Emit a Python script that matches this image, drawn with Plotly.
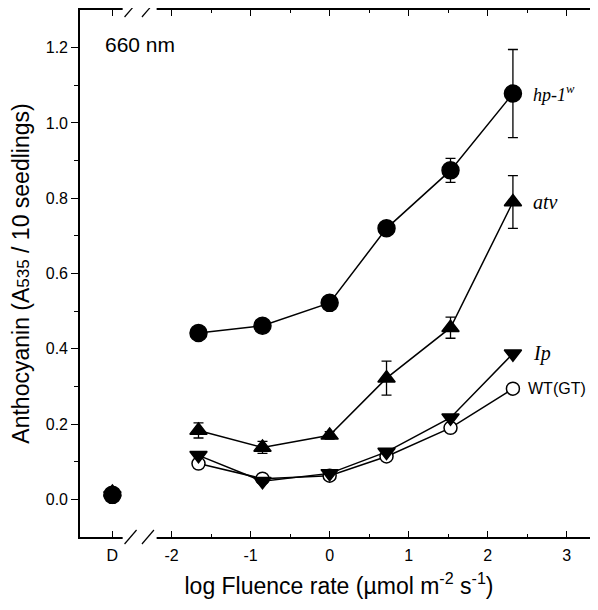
import plotly.graph_objects as go

# ---- data ----
x_log = [-1.66, -0.85, 0.0, 0.72, 1.53, 2.32]
x_dark = -2.75  # position of the "D" (dark) category on the axis

hp_vals = [0.442, 0.461, 0.522, 0.720, 0.874, 1.078]
hp_err = [0.008, 0.008, 0.008, 0.016, 0.032, 0.117]
atv_vals = [0.183, 0.138, 0.170, 0.322, 0.456, 0.790]
atv_err = [0.020, 0.016, 0.010, 0.045, 0.028, 0.070]
ip_vals = [0.117, 0.048, 0.069, 0.126, 0.217, 0.387]
wt_vals = [0.095, 0.055, 0.063, 0.114, 0.190, 0.294]
dark_vals = {"hp": 0.012, "atv": 0.018, "ip": 0.010, "wt": 0.008}

x_tickvals = [x_dark, -2, -1, 0, 1, 2, 3]
x_ticktext = ["D", "-2", "-1", "0", "1", "2", "3"]
x_minor = [-1.5, -0.5, 0.5, 1.5, 2.5]
y_tickvals = [0.0, 0.2, 0.4, 0.6, 0.8, 1.0, 1.2]
y_minor = [0.1, 0.3, 0.5, 0.7, 0.9, 1.1]

LINE = dict(color="black", width=1.5)
fig = go.Figure()

def add_series(name, xs, ys, symbol, size, err=None, fill="black", dkey=None):
    mk = dict(symbol=symbol, size=size, color=fill, line=dict(color="black", width=1.5))
    tr = dict(x=xs, y=ys, mode="lines+markers", line=LINE, marker=mk, name=name, showlegend=False)
    if err is not None:
        tr["error_y"] = dict(type="data", array=err, visible=True, color="black", thickness=1.3, width=5)
    fig.add_trace(go.Scatter(**tr))
    fig.add_trace(go.Scatter(x=[x_dark], y=[dark_vals[dkey]], mode="markers", marker=mk,
                             showlegend=False))

add_series("WT(GT)", x_log, wt_vals, "circle", 13, fill="white", dkey="wt")
add_series("Ip", x_log, ip_vals, "triangle-down", 15, dkey="ip")
add_series("atv", x_log, atv_vals, "triangle-up", 15, err=atv_err, dkey="atv")
add_series("hp-1w", x_log, hp_vals, "circle", 17, err=hp_err, dkey="hp")

# series labels at the last point
labels = [
    ("<i>hp-1<sup>w</sup></i>", hp_vals[-1], "Liberation Serif", 18, 18),
    ("<i>atv</i>", atv_vals[-1], "Liberation Serif", 20, 18),
    ("<i>Ip</i>", ip_vals[-1], "Liberation Serif", 20, 18),
    ("WT(GT)", wt_vals[-1], "Liberation Sans", 16, 13),
]
for txt, yv, fam, fs, xs in labels:
    fig.add_annotation(x=x_log[-1], y=yv, text=txt, showarrow=False, xanchor="left",
                       yanchor="middle", xshift=xs, font=dict(family=fam, size=fs, color="black"))

fig.add_annotation(x=0.045, y=0.935, xref="paper", yref="paper", text="660 nm", showarrow=False,
                   xanchor="left", yanchor="middle",
                   font=dict(family="Liberation Sans", size=21, color="black"))

# axis-break masks and slashes (top and bottom)
for yp in (0, 1):
    fig.add_shape(type="rect", xref="x", yref="paper", x0=-2.62, x1=-2.19,
                  ysizemode="pixel", yanchor=yp, y0=-3, y1=3,
                  line=dict(width=0), fillcolor="white", layer="above")
    for xc in (-2.52, -2.30):
        fig.add_shape(type="line", xref="x", yref="paper", xsizemode="pixel", ysizemode="pixel",
                      xanchor=xc, yanchor=yp, x0=-6, x1=6, y0=-7, y1=7,
                      line=dict(color="black", width=1.2), layer="above")

# page body has an 8px margin, so the figure is 8px smaller than the window
fig.update_layout(
    width=590, height=602,
    margin=dict(l=72, r=0, t=0, b=73),
    plot_bgcolor="white", paper_bgcolor="white",
    font=dict(family="Liberation Sans", color="black"),
)
fig.update_xaxes(
    range=[-3.16, 3.397], showgrid=False, zeroline=False,
    showline=True, linecolor="black", linewidth=1.6, mirror="ticks",
    tickmode="array", tickvals=x_tickvals, ticktext=x_ticktext,
    ticks="inside", ticklen=6, tickwidth=1.2, tickcolor="black",
    ticklabelstandoff=3,
    minor=dict(tickmode="array", tickvals=x_minor, ticks="inside", ticklen=3, tickwidth=1.2, tickcolor="black"),
    tickfont=dict(size=16, family="Liberation Sans"),
    title=dict(text="log Fluence rate (µmol m<sup>-2</sup> s<sup>-1</sup>)",
               font=dict(size=23, family="Liberation Sans"), standoff=15),
)
fig.update_yaxes(
    range=[-0.1, 1.3], showgrid=False, zeroline=False,
    showline=True, linecolor="black", linewidth=1.6,
    tickmode="array", tickvals=y_tickvals, tickformat=".1f",
    ticks="outside", ticklen=7, tickwidth=1.2, tickcolor="black",
    minor=dict(tickmode="array", tickvals=y_minor, ticks="outside", ticklen=4, tickwidth=1.2, tickcolor="black"),
    tickfont=dict(size=16, family="Liberation Sans"),
    title=dict(text="Anthocyanin (A<span style='font-size:17px'>535</span> / 10 seedlings)",
               font=dict(size=23, family="Liberation Sans"), standoff=10),
)

fig.write_html("out.html")
